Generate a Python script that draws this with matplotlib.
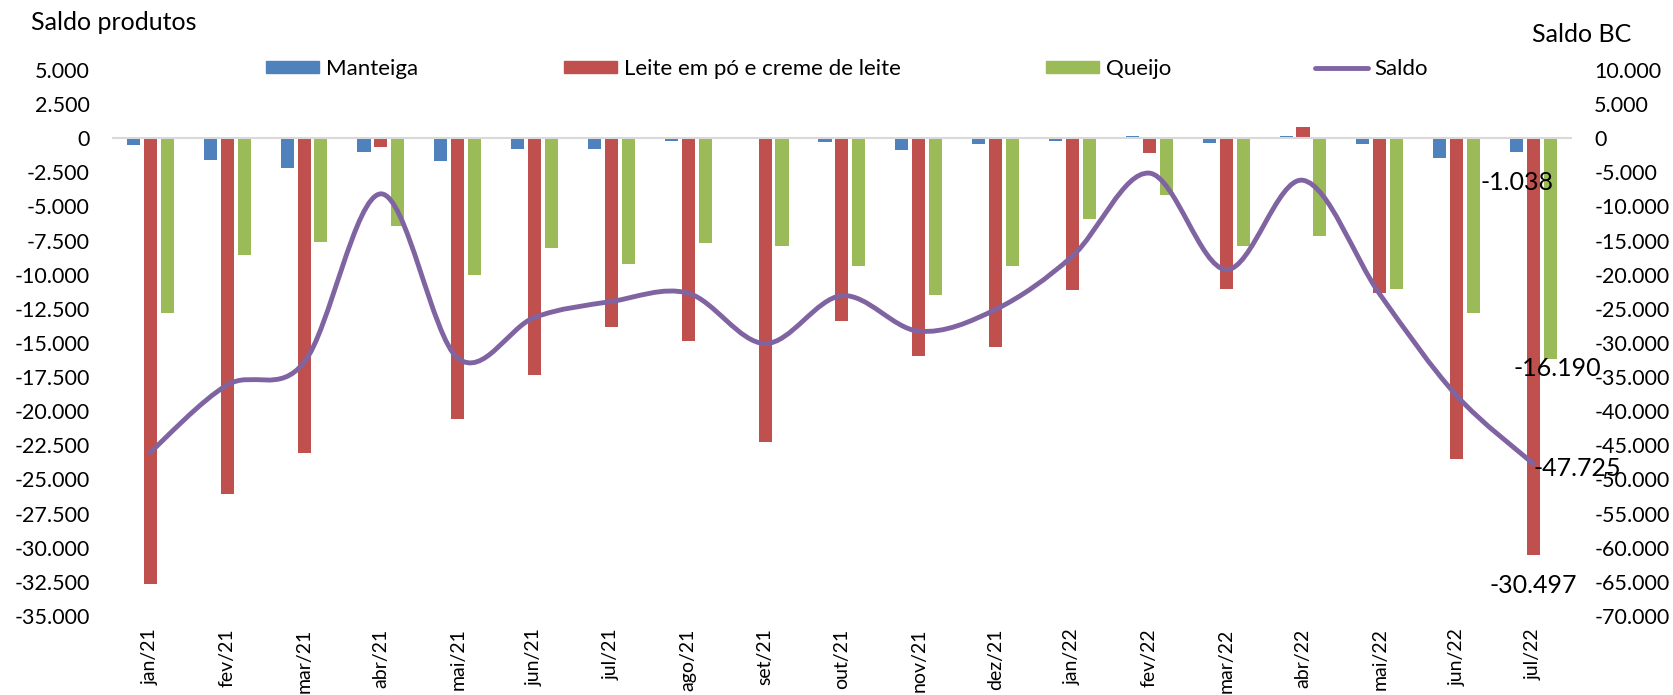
import numpy as np
import matplotlib.pyplot as plt
from matplotlib.path import Path
from matplotlib.patches import PathPatch, Patch
from matplotlib.lines import Line2D
from matplotlib.ticker import FuncFormatter, MultipleLocator

plt.rcParams['font.family'] = ['Lato', 'DejaVu Sans']

# Monthly data
months = ['jan/21', 'fev/21', 'mar/21', 'abr/21', 'mai/21', 'jun/21', 'jul/21',
          'ago/21', 'set/21', 'out/21', 'nov/21', 'dez/21', 'jan/22', 'fev/22',
          'mar/22', 'abr/22', 'mai/22', 'jun/22', 'jul/22']
manteiga = [-510, -1570, -2200, -1030, -1660, -820, -820, -180, 90, -300,
            -880, -420, -180, 150, -330, 150, -450, -1420, -1038]
leite = [-32680, -26060, -23070, -660, -20540, -17370, -13860, -14830, -22290, -13410,
         -15950, -15310, -11140, -1090, -11020, 850, -11330, -23500, -30497]
queijo = [-12810, -8520, -7580, -6460, -10030, -8060, -9240, -7700, -7880, -9360,
          -11450, -9360, -5950, -4170, -7910, -7160, -11080, -12810, -16190]
saldo = [-46000, -36150, -32860, -8150, -32220, -26250, -23920, -22710, -30080, -23070,
         -28270, -25090, -17270, -5110, -19260, -6160, -22860, -37720, -47725]

blue = '#4F81BD'
red = '#C0504D'
green = '#9BBB59'
purple = '#8064A2'


def fmt(v, pos=None):
    return f"{v:,.0f}".replace(",", ".")


def smooth_path(x, y):
    # Excel-style smoothed line: Catmull-Rom segments as cubic Bezier curves
    pts = np.column_stack([x, y]).astype(float)
    ext = np.vstack([pts[0], pts, pts[-1]])
    verts = [pts[0]]
    codes = [Path.MOVETO]
    for i in range(len(pts) - 1):
        p0, p1, p2, p3 = ext[i], ext[i + 1], ext[i + 2], ext[i + 3]
        verts += [p1 + (p2 - p0) / 6, p2 - (p3 - p1) / 6, p2]
        codes += [Path.CURVE4] * 3
    return Path(verts, codes)


fig = plt.figure(figsize=(16.73, 6.95), dpi=100)
ax = fig.add_axes([0.0669, 0.1137, 0.8727, 0.7856])
ax2 = ax.twinx()

x = np.arange(len(months))
w = 0.17
off = 0.22
ax.bar(x - off, manteiga, w, color=blue, label='Manteiga')
ax.bar(x, leite, w, color=red, label='Leite em pó e creme de leite')
ax.bar(x + off, queijo, w, color=green, label='Queijo')
ax.axhline(0, color='#D9D9D9', lw=1.5, zorder=1)

ax2.add_patch(PathPatch(smooth_path(x, saldo), facecolor='none', edgecolor=purple,
                        lw=3.5, capstyle='round', joinstyle='round'))

ax.set_xlim(-0.5, len(months) - 0.5)
ax.set_ylim(-35000, 5000)
ax2.set_ylim(-70000, 10000)
ax.yaxis.set_major_locator(MultipleLocator(2500))
ax2.yaxis.set_major_locator(MultipleLocator(5000))
ax.yaxis.set_major_formatter(FuncFormatter(fmt))
ax2.yaxis.set_major_formatter(FuncFormatter(fmt))
ax.set_xticks(x)
ax.set_xticklabels(months, rotation=90)

for a in (ax, ax2):
    for s in a.spines.values():
        s.set_visible(False)
ax.tick_params(axis='y', length=0, pad=16, labelsize=15.5)
ax2.tick_params(axis='y', length=0, pad=16, labelsize=15.5)
ax.tick_params(axis='x', length=0, pad=9, labelsize=14)

# data labels for last month
last = len(months) - 1
lab = dict(fontsize=18, color='black', textcoords='offset points')
ax.annotate(fmt(manteiga[-1]), (last - off, manteiga[-1]), xytext=(0, -22),
            ha='center', va='center', **lab)
ax.annotate(fmt(queijo[-1]), (last + off, queijo[-1]), xytext=(5, -7),
            ha='center', va='center', zorder=5, **lab)
ax.annotate(fmt(leite[-1]), (last, leite[-1]), xytext=(0, -22),
            ha='center', va='center', **lab)
ax2.annotate(fmt(saldo[-1]), (last, saldo[-1]), xytext=(0, -3.5),
             ha='left', va='center', **lab)

fig.text(31 / 1673, 1 - 23 / 695, 'Saldo produtos', fontsize=18, va='center', ha='left')
fig.text(1532 / 1673, 1 - 35 / 695, 'Saldo BC', fontsize=18, va='center', ha='left')

# legend entries positioned one by one along the top row
handles = [Patch(color=blue), Patch(color=red), Patch(color=green),
           Line2D([], [], color=purple, lw=3.5, solid_capstyle='round')]
names = ['Manteiga', 'Leite em pó e creme de leite', 'Queijo', 'Saldo']
starts = [266, 564, 1046, 1315]
for h, n, sx in zip(handles, names, starts):
    fig.legend([h], [n], loc='center left', bbox_to_anchor=(sx / 1673, 1 - 69 / 695),
               frameon=False, fontsize=16, borderpad=0, borderaxespad=0,
               handlelength=2.4, handleheight=0.5, handletextpad=0.28)

plt.savefig('out.png', dpi=100)
